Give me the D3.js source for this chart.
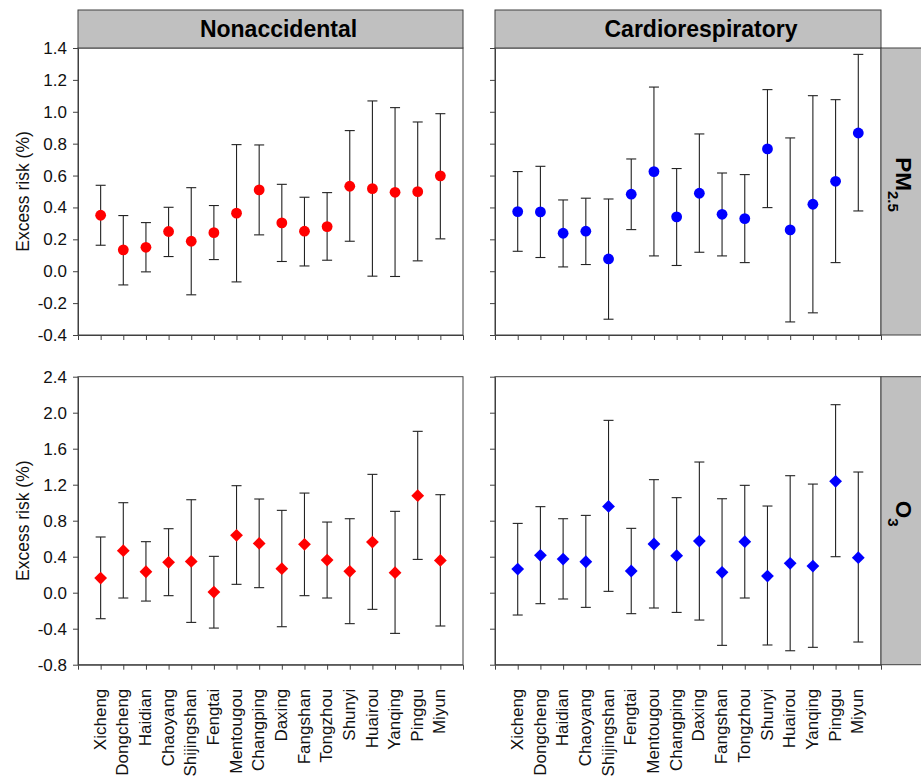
<!DOCTYPE html>
<html>
<head>
<meta charset="utf-8">
<script src="https://cdn.jsdelivr.net/npm/d3@7"></script>
<style>
  body { margin: 0; background: #fff; }
  svg { font-family: "Liberation Sans", Arial, sans-serif; }
</style>
</head>
<body>
<script>
var districts = ['Xicheng', 'Dongcheng', 'Haidian', 'Chaoyang', 'Shijingshan', 'Fengtai', 'Mentougou',
  'Changping', 'Daxing', 'Fangshan', 'Tongzhou', 'Shunyi', 'Huairou', 'Yanqing', 'Pinggu', 'Miyun'];

// PM2.5, nonaccidental
var pmNonEst = [0.351, 0.134, 0.150, 0.249, 0.188, 0.242, 0.364, 0.510, 0.303, 0.251, 0.280, 0.533, 0.518, 0.495, 0.499, 0.598];
var pmNonLo  = [0.163, -0.086, -0.004, 0.092, -0.148, 0.073, -0.067, 0.228, 0.061, 0.033, 0.069, 0.188, -0.031, -0.033, 0.065, 0.203];
var pmNonHi  = [0.539, 0.349, 0.305, 0.401, 0.524, 0.412, 0.794, 0.792, 0.545, 0.464, 0.493, 0.882, 1.068, 1.026, 0.936, 0.988];
// PM2.5, cardiorespiratory
var pmCarEst = [0.374, 0.372, 0.238, 0.251, 0.077, 0.483, 0.625, 0.341, 0.489, 0.357, 0.330, 0.767, 0.259, 0.420, 0.564, 0.867];
var pmCarLo  = [0.125, 0.086, 0.027, 0.042, -0.301, 0.261, 0.096, 0.036, 0.119, 0.096, 0.054, 0.399, -0.318, -0.261, 0.054, 0.378];
var pmCarHi  = [0.625, 0.658, 0.447, 0.458, 0.453, 0.704, 1.155, 0.644, 0.861, 0.616, 0.606, 1.139, 0.836, 1.101, 1.076, 1.360];
// O3, nonaccidental
var o3NonEst = [0.163, 0.467, 0.233, 0.337, 0.348, 0.007, 0.637, 0.548, 0.267, 0.537, 0.363, 0.237, 0.563, 0.222, 1.078, 0.359];
var o3NonLo  = [-0.289, -0.059, -0.093, -0.033, -0.330, -0.393, 0.093, 0.056, -0.378, -0.033, -0.059, -0.344, -0.185, -0.452, 0.370, -0.370];
var o3NonHi  = [0.619, 1.000, 0.567, 0.711, 1.033, 0.404, 1.189, 1.041, 0.915, 1.107, 0.785, 0.822, 1.315, 0.904, 1.793, 1.089];
// O3, cardiorespiratory
var o3CarEst = [0.263, 0.415, 0.374, 0.344, 0.959, 0.241, 0.541, 0.411, 0.574, 0.226, 0.567, 0.185, 0.326, 0.296, 1.237, 0.389];
var o3CarLo  = [-0.248, -0.122, -0.070, -0.163, 0.015, -0.233, -0.170, -0.219, -0.304, -0.585, -0.059, -0.581, -0.645, -0.607, 0.400, -0.548];
var o3CarHi  = [0.770, 0.956, 0.822, 0.859, 1.915, 0.715, 1.256, 1.056, 1.452, 1.044, 1.193, 0.963, 1.300, 1.207, 2.089, 1.341];

var pmTicks = [-0.4, -0.2, 0.0, 0.2, 0.4, 0.6, 0.8, 1.0, 1.2, 1.4];
var o3Ticks = [-0.8, -0.4, 0.0, 0.4, 0.8, 1.2, 1.6, 2.0, 2.4];

var w = 921, h = 781;
var frameColor = '#404040';
var stripFill = '#c0c0c0';

var cols = [{ x0: 78, x1: 463, title: 'Nonaccidental', shift: 8 }, { x0: 495, x1: 881, title: 'Cardiorespiratory', shift: 13 }];
var rows = [
  { y0: 48, y1: 335, ticks: pmTicks, label: 'PM', sub: '2.5', shape: 'circle' },
  { y0: 376.7, y1: 664.7, ticks: o3Ticks, label: 'O', sub: '3', shape: 'diamond' }
];
var sets = [
  [{ est: pmNonEst, lo: pmNonLo, hi: pmNonHi, color: '#ff0000' }, { est: pmCarEst, lo: pmCarLo, hi: pmCarHi, color: '#0000ff' }],
  [{ est: o3NonEst, lo: o3NonLo, hi: o3NonHi, color: '#ff0000' }, { est: o3CarEst, lo: o3CarLo, hi: o3CarHi, color: '#0000ff' }]
];

var svg = d3.select('body').append('svg')
  .attr('width', w)
  .attr('height', h);

var fmt = function (d) { return d.toFixed(1); };

rows.forEach(function (row, ri) {
  var y = d3.scaleLinear()
    .domain([row.ticks[0], row.ticks[row.ticks.length - 1]])
    .range([row.y1, row.y0]);

  cols.forEach(function (col, ci) {
    var x = d3.scalePoint()
      .domain(districts)
      .range([col.x0, col.x1])
      .padding(1);
    var s = sets[ri][ci];
    var data = districts.map(function (d, i) {
      return { name: d, est: s.est[i], lo: s.lo[i], hi: s.hi[i] };
    });

    var g = svg.append('g');

    // y axis
    var yAxis = d3.axisLeft(y).tickValues(row.ticks).tickSize(5).tickSizeOuter(0).tickPadding(6)
      .tickFormat(ci === 0 ? fmt : '');
    var ya = g.append('g')
      .attr('transform', 'translate(' + col.x0 + ',0)')
      .call(yAxis);
    ya.selectAll('line, path').attr('stroke', frameColor);
    ya.selectAll('text').attr('fill', '#111').style('font-size', '17px');

    // x axis
    var xAxis = d3.axisBottom(x).tickSize(5).tickSizeOuter(5).tickFormat('');
    var xa = g.append('g')
      .attr('transform', 'translate(0,' + row.y1 + ')')
      .call(xAxis);
    xa.selectAll('line, path').attr('stroke', frameColor);

    // frame
    g.append('rect')
      .attr('x', col.x0)
      .attr('y', row.y0)
      .attr('width', col.x1 - col.x0)
      .attr('height', row.y1 - row.y0)
      .attr('fill', 'none')
      .attr('stroke', frameColor);

    // error bars
    var eb = g.append('g').attr('class', 'errbars')
      .selectAll('g').data(data).enter().append('g');
    eb.append('line')
      .attr('x1', function (d) { return x(d.name); })
      .attr('x2', function (d) { return x(d.name); })
      .attr('y1', function (d) { return y(d.lo); })
      .attr('y2', function (d) { return y(d.hi); })
      .attr('stroke', '#222')
      .attr('stroke-width', 1.1);
    ['lo', 'hi'].forEach(function (k) {
      eb.append('line')
        .attr('x1', function (d) { return x(d.name) - 5; })
        .attr('x2', function (d) { return x(d.name) + 5; })
        .attr('y1', function (d) { return y(d[k]); })
        .attr('y2', function (d) { return y(d[k]); })
        .attr('stroke', '#222')
        .attr('stroke-width', 1.1);
    });

    // points (diamond2 half-diagonal = 0.62625 * sqrt(size))
    var sym = row.shape === 'circle'
      ? d3.symbol().type(d3.symbolCircle).size(Math.PI * 5.4 * 5.4)
      : d3.symbol().type(d3.symbolDiamond2).size(Math.pow(6.4 / 0.62625, 2));
    g.append('g').selectAll('path.pt').data(data).enter().append('path')
      .attr('class', 'pt')
      .attr('d', sym)
      .attr('transform', function (d) {
        return 'translate(' + x(d.name) + ',' + y(d.est) + ')';
      })
      .attr('fill', s.color);

    // column strip
    if (ri === 0) {
      g.append('rect')
        .attr('x', col.x0)
        .attr('y', 10)
        .attr('width', col.x1 - col.x0)
        .attr('height', row.y0 - 10)
        .attr('fill', stripFill)
        .attr('stroke', frameColor);
      g.append('text')
        .attr('x', (col.x0 + col.x1) / 2 + col.shift)
        .attr('y', (10 + row.y0) / 2)
        .attr('dy', '0.36em')
        .attr('text-anchor', 'middle')
        .style('font-size', '23px')
        .style('font-weight', 'bold')
        .attr('fill', '#000')
        .text(col.title);
    }

    // y title
    if (ci === 0) {
      g.append('text')
        .attr('transform', 'translate(29,' + (row.y0 + row.y1) / 2 + ') rotate(-90)')
        .attr('text-anchor', 'middle')
        .style('font-size', '17.5px')
        .attr('fill', '#111')
        .text('Excess risk (%)');
    }

    // x labels
    if (ri === 1) {
      g.append('g').selectAll('text').data(districts).enter().append('text')
        .attr('transform', function (d) { return 'translate(' + x(d) + ',' + (row.y1 + 24) + ') rotate(-90)'; })
        .attr('text-anchor', 'end')
        .attr('dy', '0.3em')
        .style('font-size', '17px')
        .attr('fill', '#111')
        .text(function (d) { return d; });
    }

    // row strip
    if (ci === 1) {
      g.append('rect')
        .attr('x', col.x1)
        .attr('y', row.y0)
        .attr('width', w - col.x1 + 2)
        .attr('height', row.y1 - row.y0)
        .attr('fill', stripFill)
        .attr('stroke', frameColor);
      var t = g.append('text')
        .attr('transform', 'translate(' + ((col.x1 + w) / 2) + ',' + ((row.y0 + row.y1) / 2 - 7) + ') rotate(90)')
        .attr('text-anchor', 'middle')
        .attr('dy', 5.5)
        .style('font-size', '22.5px')
        .style('font-weight', 'bold')
        .attr('fill', '#000');
      t.append('tspan').text(row.label);
      t.append('tspan')
        .attr('dy', 7.5)
        .style('font-size', '15px')
        .text(row.sub);
    }
  });
});
</script>
</body>
</html>
